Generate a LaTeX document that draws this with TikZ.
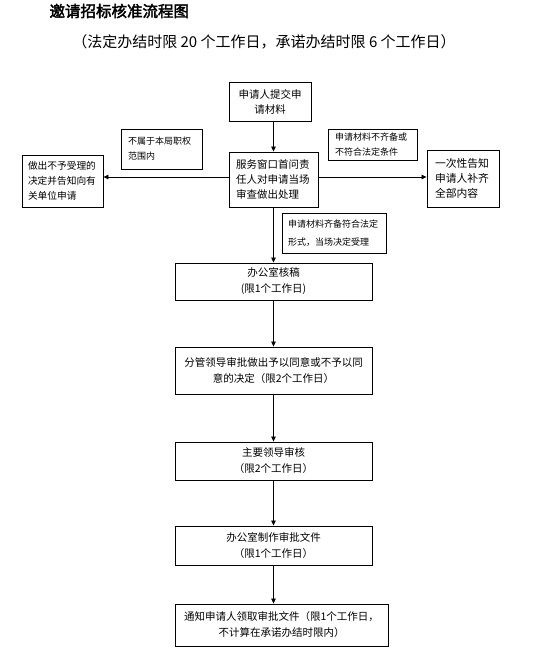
\documentclass[tikz,border=0pt]{standalone}
\usepackage{fontspec}
\setmainfont{Noto Sans CJK SC}
\newfontfamily\titlefont[FakeBold=2.5]{Noto Sans CJK SC}
\usetikzlibrary{arrows.meta}
\begin{document}
\begin{tikzpicture}[x=1pt,y=-1pt,
  box/.style={draw, line width=0.9pt, inner sep=0pt, align=center,
    font=\fontsize{10.5}{16}\selectfont},
  lbox/.style={box, align=left},
  note/.style={draw, line width=0.9pt, inner sep=0pt, align=left,
    font=\fontsize{9}{15}\selectfont},
  arr/.style={draw, line width=0.8pt, -{Triangle[length=5pt,width=4.5pt]}}
]
\useasboundingbox[fill=white] (0,0) rectangle (537,659);

\node[anchor=west, font=\titlefont\fontsize{15.5}{18}\selectfont] (title) at (46,11) {邀请招标核准流程图};
\node[font=\fontsize{15}{18}\selectfont] (sub) at (264,42) {（法定办结时限 20 个工作日，承诺办结时限 6 个工作日）};

\node[box, font=\fontsize{10.5}{15}\selectfont, minimum width=82pt, minimum height=39pt] (apply) at (270,101.5) {申请人提交申\\请材料};
\node[lbox, font=\fontsize{10.5}{15}\selectfont, minimum width=89pt, minimum height=55pt, text width=75pt] (window) at (273.5,179.5) {服务窗口首问责\\任人对申请当场\\审查做出处理};
\node[note, minimum width=81pt, minimum height=40pt, text width=67pt] (n1) at (161.5,149) {不属于本局职权\\范围内};
\node[lbox, font=\fontsize{9.7}{15}\selectfont, minimum width=81pt, minimum height=52pt, text width=69pt] (reject) at (62.5,181) {做出不予受理的\\决定并告知向有\\关单位申请};
\node[note, minimum width=89pt, minimum height=31pt, text width=75pt] (n2) at (372.5,144.5) {申请材料不齐备或\\不符合法定条件};
\node[lbox, font=\fontsize{10.8}{15}\selectfont, minimum width=72pt, minimum height=57pt, text width=56pt] (inform) at (463,178.5) {一次性告知\\申请人补齐\\全部内容};
\node[note, font=\fontsize{9}{18}\selectfont, minimum width=104pt, minimum height=40pt, text width=92pt] (n3) at (334,233) {申请材料齐备符合法定\\形式，当场决定受理};

\node[box, minimum width=197pt, minimum height=37pt] (s1) at (273.5,281.5) {办公室核稿\\(限1个工作日)};
\node[box, minimum width=197pt, minimum height=47pt] (s2) at (273.5,370.5) {分管领导审批做出予以同意或不予以同\\意的决定（限2个工作日）};
\node[box, minimum width=197pt, minimum height=38pt] (s3) at (273.5,461) {主要领导审核\\（限2个工作日）};
\node[box, minimum width=197pt, minimum height=39pt] (s4) at (273.5,545.5) {办公室制作审批文件\\（限1个工作日）};
\node[box, minimum width=213pt, minimum height=42pt] (s5) at (281.5,625) {通知申请人领取审批文件（限1个工作日，\\不计算在承诺办结时限内）};

\draw[arr] (apply.south -| window.south) -- (window.north);
\draw[arr] (window.west |- 0,177) -- (reject.east |- 0,177);
\draw[arr] (window.east |- 0,177) -- (inform.west |- 0,177);
\draw[arr] (window.south) -- (s1.north);
\draw[arr] (s1.south) -- (s2.north);
\draw[arr] (s2.south) -- (s3.north);
\draw[arr] (s3.south) -- (s4.north);
\draw[arr] (s4.south) -- (s4.south |- s5.north);
\end{tikzpicture}
\end{document}
